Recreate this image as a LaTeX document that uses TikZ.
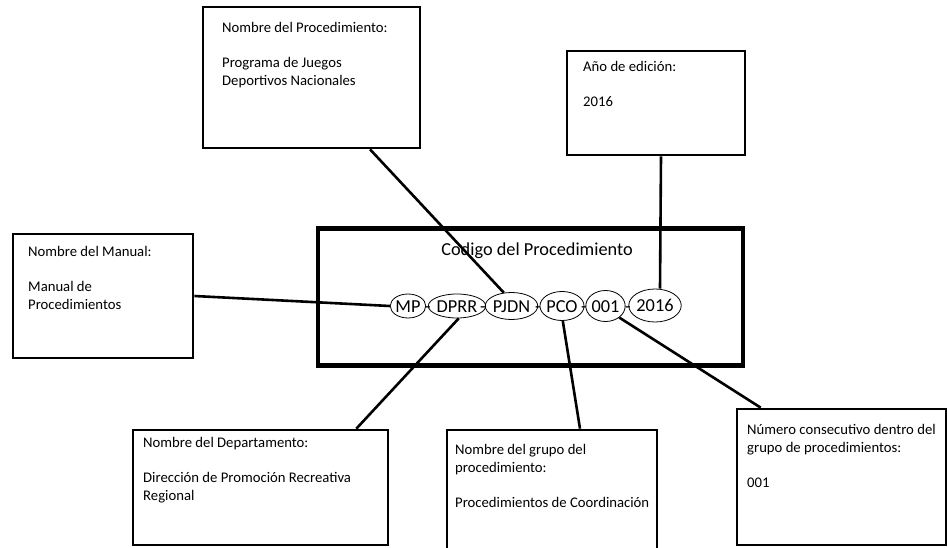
\documentclass[tikz,border=0pt]{standalone}
\usepackage{fontspec}
\setmainfont{Carlito}
\usetikzlibrary{shapes.geometric,calc}
\begin{document}
\begin{tikzpicture}[x=1pt,y=-1pt,
  box/.style={draw, line width=2.7pt, inner sep=0pt},
  boxtext/.style={anchor=north west, inner sep=0pt, align=left,
    font=\fontsize{14.7}{17.5}\selectfont},
  code/.style={ellipse, draw, line width=0.8pt, inner sep=0pt,
    text height=12pt, text depth=0pt, font=\fontsize{18.3}{20}\selectfont},
  sep/.style={inner sep=0pt, text height=12pt, text depth=0pt,
    font=\fontsize{18.3}{20}\selectfont},
  link/.style={line width=2.6pt}]
\useasboundingbox (0,0) rectangle (948,548);
\fill[white] (0,0) rectangle (948,548);
\clip (0,0) rectangle (948,548);

% main code box
\node[draw, line width=4.5pt, inner sep=0pt, minimum width=425pt, minimum height=137pt] (main) at (530.5,297) {};
\node[inner sep=0pt, font=\fontsize{18.3}{20}\selectfont] (title) at (537,251) {Codigo del Procedimiento};

% separators
\node[sep] (s1) at (428,306) {-};
\node[sep] (s2) at (483,306) {-};
\node[sep] (s3) at (538,306) {-};
\node[sep] (s4) at (584,306) {-};
\node[sep] (s5) at (628,306) {-};

% code parts
\node[code, minimum width=30pt, minimum height=24pt] (mp) at (408,306) {MP};
\node[code, minimum width=47pt, minimum height=24pt] (dprr) at (457,306) {DPRR};
\node[code, minimum width=51pt, minimum height=27pt] (pjdn) at (511.5,306) {PJDN};
\node[code, minimum width=41pt, minimum height=29pt] (pco) at (562,306) {PCO};
\node[code, minimum width=36pt, minimum height=31pt] (n001) at (605.5,306) {001};
\node[code, minimum width=46pt, minimum height=33pt] (y16) at (655,305.5) {2016};

% description boxes
\node[box, minimum width=217pt, minimum height=141pt] (proc) at (311.5,77.5) {};
\node[boxtext] (proct) at (222,22.5) {Nombre del Procedimiento:\\[17.5pt]Programa de Juegos\\Deportivos Nacionales};

\node[box, minimum width=178pt, minimum height=104pt] (ano) at (656,103) {};
\node[boxtext] (anot) at (583,61.5) {Año de edición:\\[17.5pt]2016};

\node[box, minimum width=180pt, minimum height=124pt] (manual) at (103,296) {};
\node[boxtext] (manualt) at (28,246.5) {Nombre del Manual:\\[17.5pt]Manual de\\Procedimientos};

\node[box, minimum width=255pt, minimum height=115pt] (dept) at (260.5,487.5) {};
\node[boxtext] (deptt) at (143,437.5) {Nombre del Departamento:\\[17.5pt]Dirección de Promoción Recreativa\\Regional};

\node[box, minimum width=210pt, minimum height=134pt] (group) at (552,497) {};
\node[boxtext] (groupt) at (455,444.5) {Nombre del grupo del\\procedimiento:\\[17.5pt]Procedimientos de Coordinación};

\node[box, minimum width=209pt, minimum height=136pt] (num) at (841.5,477) {};
\node[boxtext] (numt) at (747,424.5) {Número consecutivo dentro del\\grupo de procedimientos:\\[17.5pt]001};

% connectors
\draw[link] (manual.east) -- (mp.west);
\draw[link] ([xshift=58.5pt]proc.south) -- (pjdn.120);
\draw[link] ([xshift=5pt]ano.south) -- ([xshift=5pt]y16.north);
\draw[link] ([xshift=-33pt]dept.north east) -- (dprr.-82);
\draw[link] ([xshift=28pt]group.north) -- (pco.-87);
\draw[link] ([xshift=25pt]num.north west) -- (n001.-40);
\end{tikzpicture}
\end{document}
